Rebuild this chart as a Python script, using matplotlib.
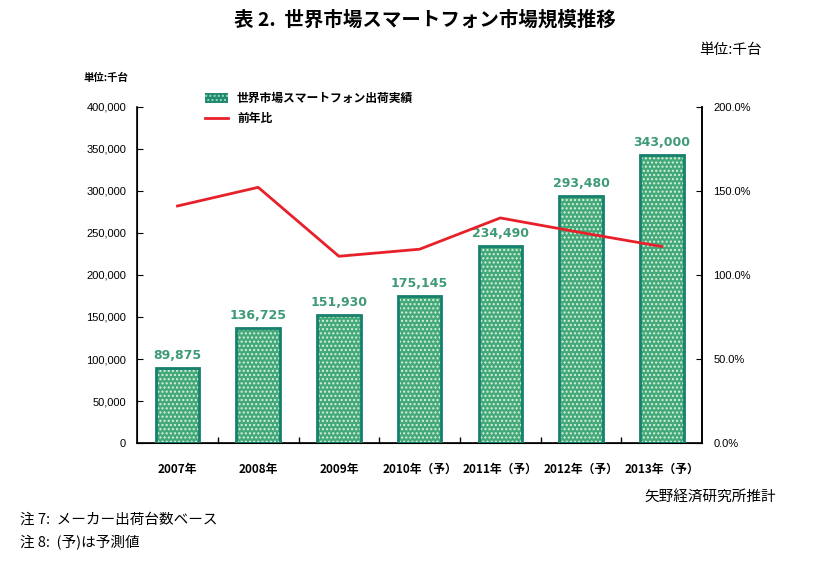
import matplotlib
matplotlib.use("Agg")
import matplotlib.pyplot as plt
from matplotlib.ticker import FuncFormatter, FixedLocator
import numpy as np

plt.rcParams['font.family'] = ['Noto Sans CJK JP', 'DejaVu Sans']

categories = ["2007年", "2008年", "2009年", "2010年（予）", "2011年（予）", "2012年（予）", "2013年（予）"]
shipments = [89875, 136725, 151930, 175145, 234490, 293480, 343000]
yoy = [141.0, 152.1, 111.1, 115.3, 133.9, 125.2, 116.9]
bar_labels = ["89,875", "136,725", "151,930", "175,145", "234,490", "293,480", "343,000"]

fig = plt.figure(figsize=(8.26, 5.71), dpi=100)
ax = fig.add_axes([0.166, 0.224, 0.684, 0.589])
x = np.arange(len(categories))

ax.bar(x, shipments, width=0.54, color="#44a978", edgecolor="#d8f0e0", hatch="....", linewidth=0, zorder=2)
ax.bar(x, shipments, width=0.54, fill=False, edgecolor="#17806e", linewidth=2, zorder=3)
for xi, v, lab in zip(x, shipments, bar_labels):
    ax.text(xi, v + 7000, lab, ha="center", va="bottom", fontsize=9, fontweight="bold",
            color="#3f9a76", family="DejaVu Sans")

ax.set_xlim(-0.5, len(categories) - 0.5)
ax.set_ylim(0, 400000)
ax.set_yticks(np.arange(0, 400001, 50000))
ax.yaxis.set_major_formatter(FuncFormatter(lambda v, p: f"{int(v):,}"))
ax.set_xticks(x)
ax.set_xticklabels(categories, fontsize=8.5, fontweight="bold")
ax.xaxis.set_minor_locator(FixedLocator(np.arange(0.5, len(categories) - 0.5, 1)))
ax.tick_params(axis="x", which="major", length=0, pad=14)
ax.tick_params(axis="x", which="minor", length=4, direction="in", width=1)
ax.tick_params(axis="y", direction="in", length=4, labelsize=8, pad=8)
for lab in ax.get_yticklabels():
    lab.set_family("Liberation Sans")
ax.spines["top"].set_visible(False)
for s in ["left", "bottom", "right"]:
    ax.spines[s].set_linewidth(1.2)

ax2 = ax.twinx()
ax2.plot(x, yoy, color="#e8202a", linewidth=2, zorder=4)
ax2.set_ylim(0, 200)
ax2.set_yticks(np.arange(0, 201, 50))
ax2.yaxis.set_major_formatter(FuncFormatter(lambda v, p: f"{v:.1f}%"))
ax2.tick_params(axis="y", direction="in", length=4, labelsize=8, pad=8)
for lab in ax2.get_yticklabels():
    lab.set_family("Liberation Sans")
ax2.spines["top"].set_visible(False)
ax2.spines["right"].set_linewidth(1.2)

# legend (manual, as in reference)
from matplotlib.patches import Rectangle
from matplotlib.lines import Line2D
fig.patches.append(Rectangle((205/826, 1-103/571), 23/826, 10/571, transform=fig.transFigure,
                             facecolor="#1f8a70", edgecolor="#9fd8b8", hatch="....", linewidth=0))
fig.text(237/826, 1-98/571, "世界市場スマートフォン出荷実績", fontsize=8.5, fontweight="bold", va="center")
fig.lines.append(Line2D([205/826, 228/826], [1-118/571, 1-118/571], transform=fig.transFigure,
                        color="#e8202a", linewidth=2))
fig.text(237/826, 1-118/571, "前年比", fontsize=8.5, fontweight="bold", va="center")

fig.text(106/826, 1-78/571, "単位:千台", fontsize=7.5, fontweight="bold", ha="center", va="center")
fig.text(0.515, 1-20/571, "表 2.  世界市場スマートフォン市場規模推移", fontsize=14, fontweight="bold",
         ha="center", va="center")
fig.text(762/826, 1-50/571, "単位:千台", fontsize=10.5, ha="right", va="center")
fig.text(776/826, 1-497/571, "矢野経済研究所推計", fontsize=10.5, ha="right", va="center")
fig.text(20/826, 1-520/571, "注 7:  メーカー出荷台数ベース", fontsize=10.5, ha="left", va="center")
fig.text(20/826, 1-543/571, "注 8:  (予)は予測値", fontsize=10.5, ha="left", va="center")

fig.savefig("out.png", dpi=100)
